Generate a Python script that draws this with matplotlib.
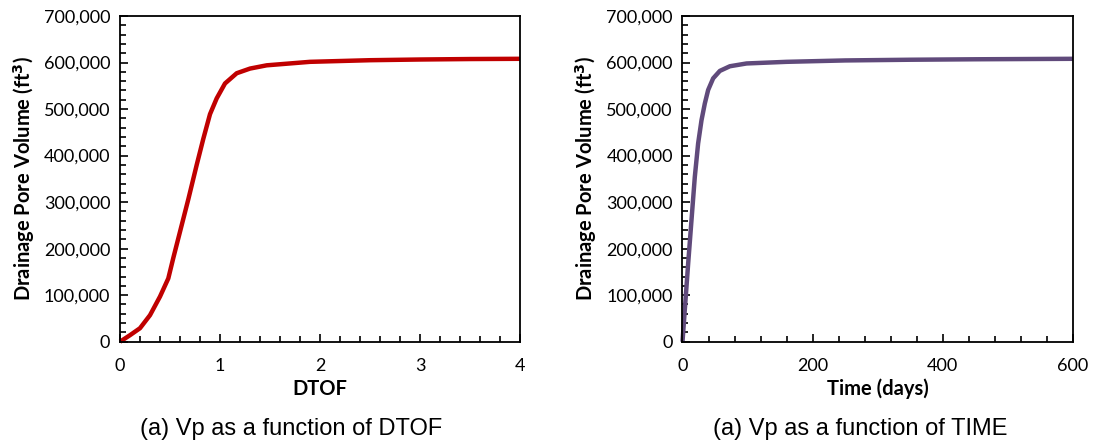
import matplotlib
matplotlib.use("Agg")
import matplotlib.pyplot as plt
from matplotlib.ticker import MultipleLocator, FuncFormatter

# DTOF curve
dtof = [0.0, 0.1, 0.2, 0.3, 0.4, 0.483, 0.533, 0.583, 0.633, 0.683, 0.767,
        0.833, 0.9, 0.967, 1.05, 1.167, 1.3, 1.467, 1.9, 2.5, 3.0, 3.5, 4.0]
vp_dtof = [0, 14000, 29000, 57000, 97000, 136000, 180000, 222000, 264000,
           306000, 380000, 436000, 489000, 523000, 555000, 577000, 587000,
           594000, 601500, 605000, 606500, 607500, 608000]

# time curve
days = [0, 3.5, 8.7, 13.8, 18.9, 24, 29.2, 34.3, 39.4, 47.1, 57.4, 72.8,
        98.5, 160, 250, 350, 450, 600]
vp_time = [0, 68000, 168000, 261000, 354000, 426000, 476000, 512000, 541000,
           566000, 582000, 592000, 598000, 601500, 604500, 606000, 607000,
           608000]

ylabel = "Drainage Pore Volume (ft$^\\mathbf{3}$)"
captions = ["(a) Vp as a function of DTOF", "(a) Vp as a function of TIME"]

tick_font = "Lato"
cap_font = "Liberation Sans"

fig = plt.figure(figsize=(10.94, 4.47), dpi=100)
W, H = 1094, 447


def make_axes(x0, x1, y0, y1):
    return fig.add_axes([x0 / W, 1 - y1 / H, (x1 - x0) / W, (y1 - y0) / H])


def style(ax, xmax, xmajor, xminor, xlabel):
    ax.set_xlim(0, xmax)
    ax.set_ylim(0, 700000)
    ax.xaxis.set_major_locator(MultipleLocator(xmajor))
    ax.xaxis.set_minor_locator(MultipleLocator(xminor))
    ax.yaxis.set_major_locator(MultipleLocator(100000))
    ax.yaxis.set_minor_locator(MultipleLocator(20000))
    ax.yaxis.set_major_formatter(FuncFormatter(lambda v, _: f"{int(v):,}"))
    ax.tick_params(which="both", direction="in", color="black", width=1.2)
    ax.tick_params(which="major", length=6, labelsize=13)
    ax.tick_params(axis="x", which="major", pad=12)
    ax.tick_params(axis="y", which="major", pad=7)
    ax.tick_params(which="minor", length=4)
    for lab in ax.get_xticklabels() + ax.get_yticklabels():
        lab.set_fontfamily(tick_font)
    for sp in ax.spines.values():
        sp.set_linewidth(1.3)
        sp.set_color("black")
    ax.set_xlabel(xlabel, fontsize=14.5, fontweight="bold", family=tick_font, labelpad=3)
    ax.set_ylabel(ylabel, fontsize=14.5, fontweight="bold", family=tick_font, labelpad=5)


ax1 = make_axes(120, 520, 16, 341.7)
ax1.plot(dtof, vp_dtof, color="#C00000", lw=3.2, solid_joinstyle="round",
         solid_capstyle="butt", clip_on=False)
style(ax1, 4, 1, 0.2, "DTOF")

ax2 = make_axes(682.5, 1073, 16, 341.7)
ax2.plot(days, vp_time, color="#604A7B", lw=3.2, solid_joinstyle="round",
         solid_capstyle="butt", clip_on=False)
style(ax2, 600, 200, 40, "Time (days)")

fig.text(291 / W, 1 - 429 / H, captions[0], ha="center", va="center",
         fontsize=17, family=cap_font)
fig.text(860 / W, 1 - 429 / H, captions[1], ha="center", va="center",
         fontsize=17, family=cap_font)

fig.savefig("out.png", dpi=100)
